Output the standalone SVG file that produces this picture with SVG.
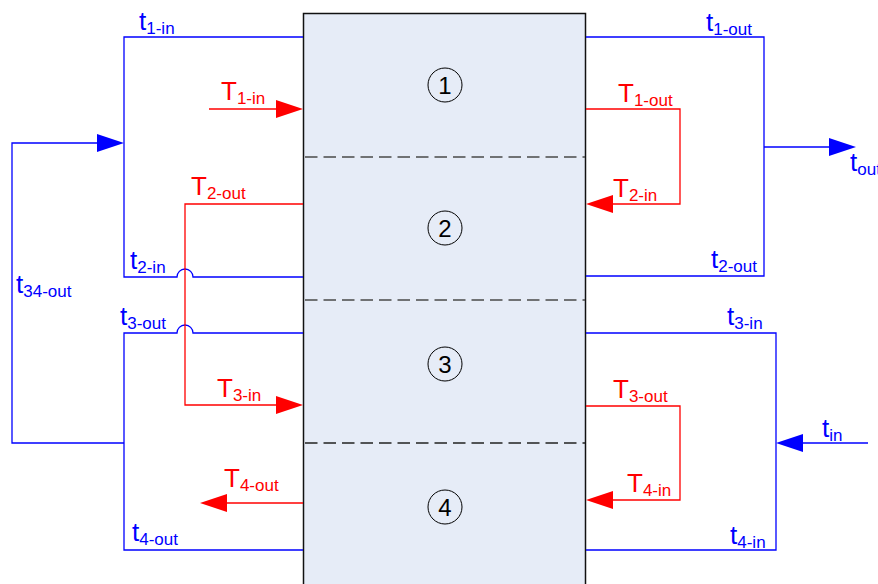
<svg xmlns="http://www.w3.org/2000/svg" width="878" height="584" viewBox="0 0 878 584">
  <style>
    .blue { fill: none; stroke: #0000FF; stroke-width: 1.3; }
    .red { fill: none; stroke: #FF0000; stroke-width: 1.3; }
    .ah-blue { fill: #0000FF; stroke: none; }
    .ah-red { fill: #FF0000; stroke: none; }
    .divider { stroke: #4A4A4A; stroke-width: 1.5; stroke-dasharray: 12.5 6; }
    .zone-ring { fill: none; stroke: #000000; stroke-width: 1; }
    .zone-num { font-family: "Liberation Sans", Arial, sans-serif; font-size: 24px; fill: #000000; text-anchor: middle; }
    .lbl { font-family: "Liberation Sans", Arial, sans-serif; font-size: 26px; }
    .lbl tspan { font-size: 17px; }
    .lb { fill: #0000FF; }
    .lr { fill: #FF0000; }
  </style>

  <!-- exchanger body with four zones -->
  <g id="exchanger">
    <rect x="303.5" y="13.5" width="282" height="600" fill="#E6ECF7" stroke="#111111" stroke-width="1.5"/>
    <line class="divider" x1="305" y1="157" x2="585" y2="157"/>
    <line class="divider" x1="305" y1="300" x2="585" y2="300"/>
    <line class="divider" x1="305" y1="443" x2="585" y2="443" style="stroke:#222222"/>
  </g>
  <g id="zone-1">
    <circle class="zone-ring" cx="445" cy="85" r="17"/>
    <text class="zone-num" x="445" y="93.5">1</text>
  </g>
  <g id="zone-2">
    <circle class="zone-ring" cx="445" cy="228" r="17"/>
    <text class="zone-num" x="445" y="236.5">2</text>
  </g>
  <g id="zone-3">
    <circle class="zone-ring" cx="445" cy="364" r="17"/>
    <text class="zone-num" x="445" y="372.5">3</text>
  </g>
  <g id="zone-4">
    <circle class="zone-ring" cx="445" cy="507" r="17"/>
    <text class="zone-num" x="445" y="515.5">4</text>
  </g>

  <!-- flow lines -->
  <g id="connectors">
    <!-- cold stream (blue) -->
    <path class="blue" d="M303,37 H124 V277 H177 A8,8 0 0 1 193,277 H303"/>
    <path class="blue" d="M124,443 H12 V143 H100"/>
    <polygon class="ah-blue" points="124,143 97,134 97,152"/>
    <path class="blue" d="M303,333 H193 A8,8 0 0 0 177,333 H124 V550 H303"/>
    <path class="blue" d="M586,37 H764 V276 H586"/>
    <path class="blue" d="M764,147 H832"/>
    <polygon class="ah-blue" points="856,147 829,138 829,156"/>
    <path class="blue" d="M586,333 H776 V550 H586"/>
    <path class="blue" d="M868,443 H800"/>
    <polygon class="ah-blue" points="776,443 803,434 803,452"/>

    <!-- hot stream (red) -->
    <path class="red" d="M209,109 H280"/>
    <polygon class="ah-red" points="303,109 276,100 276,118"/>
    <path class="red" d="M586,109 H680 V204 H610"/>
    <polygon class="ah-red" points="586,204 613,195 613,213"/>
    <path class="red" d="M303,204 H185 V405 H280"/>
    <polygon class="ah-red" points="303,405 276,396 276,414"/>
    <path class="red" d="M586,406 H680 V500 H610"/>
    <polygon class="ah-red" points="586,500 613,491 613,509"/>
    <path class="red" d="M303,503 H224"/>
    <polygon class="ah-red" points="200,503 227,494 227,512"/>
  </g>

  <!-- stream labels -->
  <g id="labels">
    <text class="lbl lb" x="139" y="30">t<tspan dy="4">1-in</tspan></text>
    <text class="lbl lb" x="706" y="31">t<tspan dy="4">1-out</tspan></text>
    <text class="lbl lb" x="130" y="269">t<tspan dy="4">2-in</tspan></text>
    <text class="lbl lb" x="711" y="268">t<tspan dy="4">2-out</tspan></text>
    <text class="lbl lb" x="16" y="293">t<tspan dy="4">34-out</tspan></text>
    <text class="lbl lb" x="850" y="171">t<tspan dy="4">out</tspan></text>
    <text class="lbl lb" x="120" y="325">t<tspan dy="4">3-out</tspan></text>
    <text class="lbl lb" x="727" y="325">t<tspan dy="4">3-in</tspan></text>
    <text class="lbl lb" x="822" y="437">t<tspan dy="4">in</tspan></text>
    <text class="lbl lb" x="132" y="541">t<tspan dy="4">4-out</tspan></text>
    <text class="lbl lb" x="730" y="544">t<tspan dy="4">4-in</tspan></text>

    <text class="lbl lr" x="221" y="100">T<tspan dy="4">1-in</tspan></text>
    <text class="lbl lr" x="618" y="102">T<tspan dy="4">1-out</tspan></text>
    <text class="lbl lr" x="191" y="195">T<tspan dy="4">2-out</tspan></text>
    <text class="lbl lr" x="613" y="197">T<tspan dy="4">2-in</tspan></text>
    <text class="lbl lr" x="217" y="397">T<tspan dy="4">3-in</tspan></text>
    <text class="lbl lr" x="613" y="398">T<tspan dy="4">3-out</tspan></text>
    <text class="lbl lr" x="224" y="487">T<tspan dy="4">4-out</tspan></text>
    <text class="lbl lr" x="627" y="492">T<tspan dy="4">4-in</tspan></text>
  </g>
</svg>
